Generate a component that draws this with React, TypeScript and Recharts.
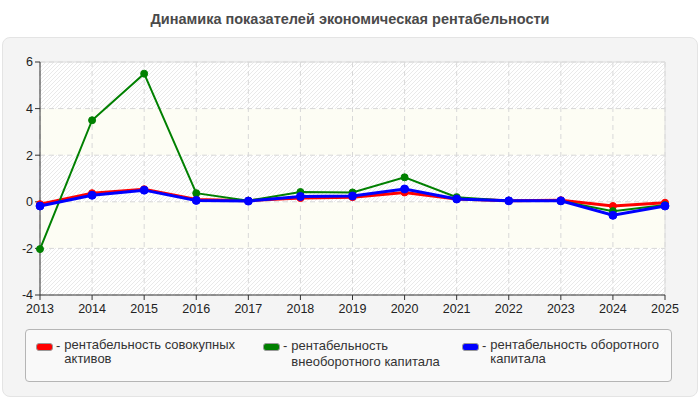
import React from "react";
import {
  CartesianGrid,
  Line,
  LineChart,
  ReferenceLine,
  XAxis,
  YAxis,
} from "recharts";

const years = ["2013", "2014", "2015", "2016", "2017", "2018", "2019", "2020", "2021", "2022", "2023", "2024", "2025"];
const totalAssets = [-0.1, 0.37, 0.54, 0.1, 0.05, 0.16, 0.2, 0.4, 0.12, 0.05, 0.07, -0.18, -0.04];
const fixedCapital = [-2.03, 3.5, 5.5, 0.37, 0.05, 0.42, 0.4, 1.05, 0.2, 0.05, 0.03, -0.4, -0.14];
const workingCapital = [-0.18, 0.28, 0.5, 0.06, 0.03, 0.23, 0.25, 0.55, 0.12, 0.04, 0.04, -0.58, -0.18];
const yTicks = [-4, -2, 0, 2, 4, 6];

const seriesNames = [
  "рентабельность совокупных\nактивов",
  "рентабельность\nвнеоборотного капитала",
  "рентабельность оборотного\nкапитала",
];
const seriesColors = ["#ff0000", "#008000", "#0000ff"];

const data = years.map((year, i) => ({
  year,
  totalAssets: totalAssets[i],
  fixedCapital: fixedCapital[i],
  workingCapital: workingCapital[i],
}));

const font = "'Liberation Sans', Arial, sans-serif";

function LegendBox() {
  const offsets = [10, 237, 436];
  return (
    <div
      style={{
        position: "absolute",
        left: 25,
        top: 329,
        width: 647,
        height: 53,
        boxSizing: "border-box",
        border: "1px solid #b5b5b5",
        borderRadius: 4,
        background: "#f9f9f9",
        fontFamily: font,
        fontSize: 13,
        color: "#333",
      }}
    >
      {seriesNames.map((name, i) => (
        <div
          key={name}
          style={{ position: "absolute", left: offsets[i], top: 8, display: "flex", alignItems: "flex-start" }}
        >
          <span
            style={{
              display: "inline-block",
              width: 17,
              height: 8,
              marginTop: 5,
              borderRadius: 3,
              background: seriesColors[i],
              border: "1px solid #999",
              boxSizing: "border-box",
            }}
          />
          <span style={{ marginLeft: 3, marginRight: 4, lineHeight: "15px" }}>-</span>
          <span style={{ whiteSpace: "pre-line", lineHeight: i === 1 ? "16px" : "14px" }}>{name}</span>
        </div>
      ))}
    </div>
  );
}

export default function App() {
  return (
    <div style={{ position: "absolute", left: 0, top: 0, width: 700, height: 400, background: "#fff" }}>
      <div
        style={{
          position: "absolute",
          left: 0,
          top: 11,
          width: 700,
          textAlign: "center",
          fontFamily: font,
          fontWeight: "bold",
          fontSize: 14.5,
          color: "#4a4a4a",
        }}
      >
        Динамика показателей экономическая рентабельности
      </div>
      <div
        style={{
          position: "absolute",
          left: 2,
          top: 37,
          width: 696,
          height: 360,
          boxSizing: "border-box",
          background: "#f4f4f4",
          border: "1px solid #e4e4e4",
          borderRadius: 8,
        }}
      />
      <div style={{ position: "absolute", left: 0, top: 0 }}>
        <LineChart
          width={700}
          height={400}
          data={data}
          margin={{ top: 62, right: 35, bottom: 75, left: 0 }}
        >
          <defs>
            <pattern id="hatch" patternUnits="userSpaceOnUse" width={4} height={4}>
              <rect width={4} height={4} fill="#ffffff" />
              <path d="M-1,1 l2,-2 M0,4 l4,-4 M3,5 l2,-2" stroke="#e9e9e9" strokeWidth={1} />
            </pattern>
          </defs>
          {/* alternating stripes between the value gridlines, grid drawn on top */}
          <CartesianGrid
            stroke="#d8d8d8"
            strokeDasharray="5 4"
            horizontalFill={["url(#hatch)", "#fdfdf4"]}
            fillOpacity={1}
          />
          <ReferenceLine y={6} stroke="#dcdcdc" strokeWidth={1} />
          <ReferenceLine x="2025" stroke="#dcdcdc" strokeWidth={1} />
          <XAxis
            dataKey="year"
            height={30}
            stroke="#333"
            tickSize={5}
            tickMargin={4}
            tick={{ fill: "#222", fontSize: 12.5, fontFamily: font }}
            interval={0}
          />
          <YAxis
            width={40}
            domain={[-4, 6]}
            ticks={yTicks}
            stroke="#333"
            tickSize={5}
            tick={{ fill: "#222", fontSize: 12.5, fontFamily: font }}
          />
          <Line
            dataKey="totalAssets"
            name={seriesNames[0]}
            stroke={seriesColors[0]}
            strokeWidth={3}
            dot={{ r: 3.5, fill: seriesColors[0], stroke: seriesColors[0], strokeWidth: 1 }}
            isAnimationActive={false}
          />
          <Line
            dataKey="fixedCapital"
            name={seriesNames[1]}
            stroke={seriesColors[1]}
            strokeWidth={2}
            dot={{ r: 3.5, fill: seriesColors[1], stroke: seriesColors[1], strokeWidth: 1 }}
            isAnimationActive={false}
          />
          <Line
            dataKey="workingCapital"
            name={seriesNames[2]}
            stroke={seriesColors[2]}
            strokeWidth={3}
            dot={{ r: 4, fill: seriesColors[2], stroke: seriesColors[2], strokeWidth: 1 }}
            isAnimationActive={false}
          />
        </LineChart>
      </div>
      <LegendBox />
    </div>
  );
}
